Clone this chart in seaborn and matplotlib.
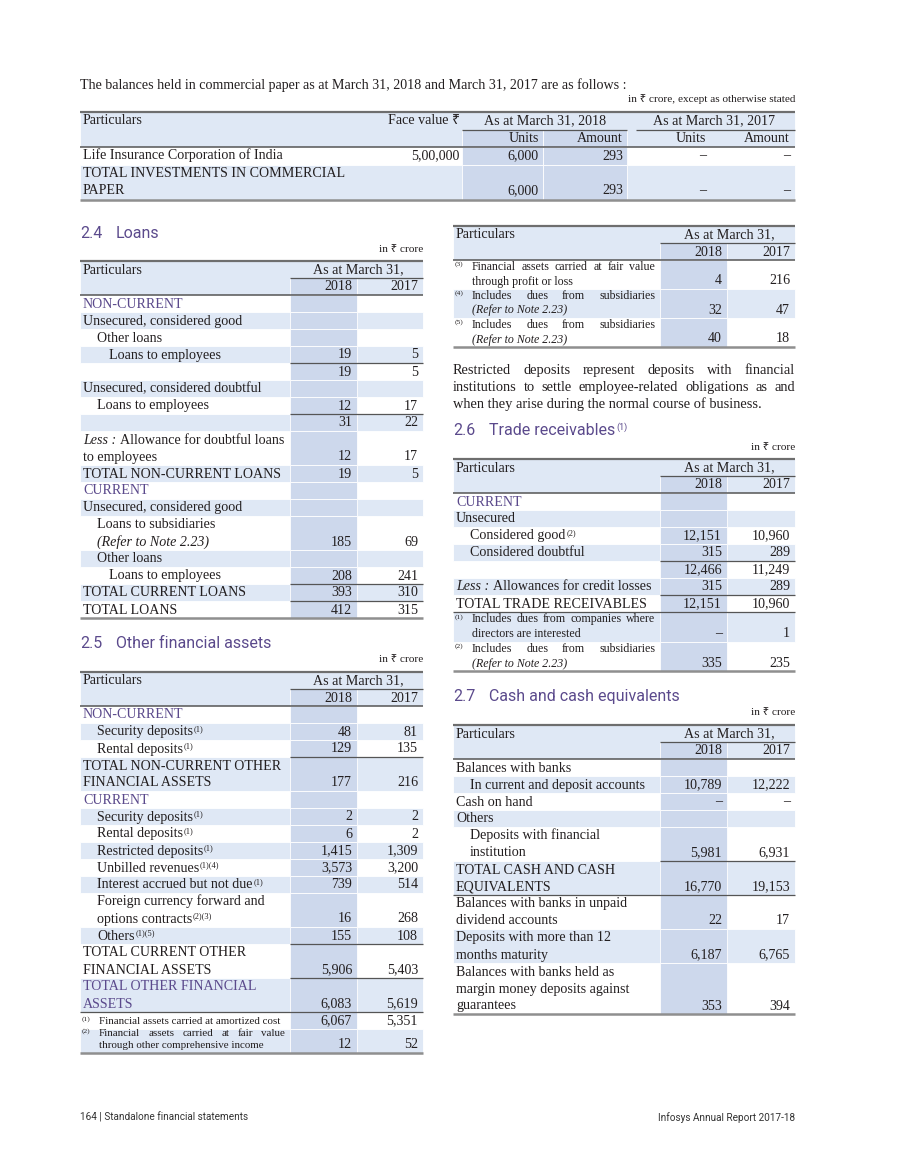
import numpy as np
import seaborn as sns
import matplotlib.pyplot as plt
from matplotlib.patches import Rectangle

# ---------------- data ----------------
# commercial paper
cp_rows = ["Life Insurance Corporation of India", "TOTAL INVESTMENTS IN COMMERCIAL\nPAPER"]
cp_face_value = [500000, None]
cp_units_2018 = [6000, 6000]
cp_amount_2018 = [293, 293]
cp_units_2017 = [0, 0]
cp_amount_2017 = [0, 0]

# 2.4 Loans
loans_labels = ["NON-CURRENT", "Unsecured, considered good", "Other loans", "Loans to employees", "",
                "Unsecured, considered doubtful", "Loans to employees", "",
                "*Less :* Allowance for doubtful loans\nto employees", "TOTAL NON-CURRENT LOANS",
                "CURRENT", "Unsecured, considered good", "Loans to subsidiaries\n*(Refer to Note 2.23)*",
                "Other loans", "Loans to employees", "TOTAL CURRENT LOANS", "TOTAL LOANS"]
loans_2018 = [None, None, None, 19, 19, None, 12, 31, 12, 19, None, None, 185, None, 208, 393, 412]
loans_2017 = [None, None, None, 5, 5, None, 17, 22, 17, 5, None, None, 69, None, 241, 310, 315]

# 2.5 Other financial assets
ofa_labels = ["NON-CURRENT", "Security deposits^(1)", "Rental deposits^(1)",
              "TOTAL NON-CURRENT OTHER\nFINANCIAL ASSETS", "CURRENT", "Security deposits^(1)",
              "Rental deposits^(1)", "Restricted deposits^(1)", "Unbilled revenues^(1)(4)",
              "Interest accrued but not due^(1)", "Foreign currency forward and\noptions contracts^(2)(3)",
              "Others^(1)(5)", "TOTAL CURRENT OTHER\nFINANCIAL ASSETS", "TOTAL OTHER FINANCIAL\nASSETS"]
ofa_2018 = [None, 48, 129, 177, None, 2, 6, 1415, 3573, 739, 16, 155, 5906, 6083]
ofa_2017 = [None, 81, 135, 216, None, 2, 2, 1309, 3200, 514, 268, 108, 5403, 5619]
ofa_note_marks = ["(1)", "(2)"]
ofa_note_text = ["Financial assets carried at amortized cost",
                 "Financial assets carried at fair value\nthrough other comprehensive income"]
ofa_note_2018 = [6067, 12]
ofa_note_2017 = [5351, 52]
ofa_cont_marks = ["(3)", "(4)", "(5)"]
ofa_cont_text = ["Financial assets carried at fair value\nthrough profit or loss",
                 "Includes dues from subsidiaries\n*(Refer to Note 2.23)*",
                 "Includes dues from subsidiaries\n*(Refer to Note 2.23)*"]
ofa_cont_2018 = [4, 32, 40]
ofa_cont_2017 = [216, 47, 18]

# 2.6 Trade receivables
tr_labels = ["CURRENT", "Unsecured", "Considered good^(2)", "Considered doubtful", "",
             "*Less :* Allowances for credit losses", "TOTAL TRADE RECEIVABLES"]
tr_2018 = [None, None, 12151, 315, 12466, 315, 12151]
tr_2017 = [None, None, 10960, 289, 11249, 289, 10960]
tr_note_marks = ["(1)", "(2)"]
tr_note_text = ["Includes dues from companies where\ndirectors are interested",
                "Includes dues from subsidiaries\n*(Refer to Note 2.23)*"]
tr_note_2018 = [0, 335]
tr_note_2017 = [1, 235]

# 2.7 Cash and cash equivalents
cash_labels = ["Balances with banks", "In current and deposit accounts", "Cash on hand", "Others",
               "Deposits with financial\ninstitution", "TOTAL CASH AND CASH\nEQUIVALENTS",
               "Balances with banks in unpaid\ndividend accounts", "Deposits with more than 12\nmonths maturity",
               "Balances with banks held as\nmargin money deposits against\nguarantees"]
cash_2018 = [None, 10789, 0, None, 5981, 16770, 22, 6187, 353]
cash_2017 = [None, 12222, 0, None, 6931, 19153, 17, 6765, 394]

intro = "The balances held in commercial paper as at March 31, 2018 and March 31, 2017 are as follows :"
paragraph = ["Restricted deposits represent deposits with financial",
             "institutions to settle employee-related obligations as and",
             "when they arise during the normal course of business."]

# ---------------- layout / style ----------------
loans_indent = [0, 0, 1, 2, 0, 0, 1, 0, 0, 0, 0, 0, 1, 1, 2, 0, 0]
loans_rule = [0, 0, 0, 0, 1, 0, 0, 1, 0, 0, 0, 0, 0, 0, 0, 1, 1]
loans_purple = [0, 10]
ofa_indent = [0, 1, 1, 0, 0, 1, 1, 1, 1, 1, 1, 1, 0, 0]
ofa_rule = [0, 0, 0, 1, 0, 0, 0, 0, 0, 0, 0, 0, 1, 1]
ofa_purple = [0, 4, 13]
tr_indent = [0, 0, 1, 1, 0, 0, 0]
tr_rule = [0, 0, 0, 0, 1, 0, 1]
tr_purple = [0]
cash_indent = [0, 1, 0, 0, 1, 0, 0, 0, 0]
cash_rule = [0, 0, 0, 0, 0, 1, 2, 0, 0]

INK = "#231f20"
BLUE = "#dfe8f5"
COL = "#cdd8ec"
PURPLE = "#5b4a8c"
DARK = "#555555"
TOPC = "#6e6e6e"
BOTC = "#8f8f8f"
BODY = 10.1
SMALL = 8.1
SANS = ["Roboto", "DejaVu Sans"]

sns.set_theme(style="white")
plt.rcParams['font.family'] = ['Liberation Serif', 'Noto Sans', 'DejaVu Sans']

fig = plt.figure(figsize=(9, 11.65), dpi=100)
ax = fig.add_axes([0, 0, 1, 1])
ax.set_xlim(0, 900)
ax.set_ylim(1165, 0)
ax.axis('off')
R = fig.canvas.get_renderer()


def fmt(v):
    if v is None:
        return ""
    if v == 0:
        return "–"
    return f"{v:,}"


def indian(v):
    if v is None:
        return ""
    s = str(v)
    head, tail = s[:-3], s[-3:]
    parts = []
    while len(head) > 2:
        parts.insert(0, head[-2:])
        head = head[:-2]
    if head:
        parts.insert(0, head)
    return ",".join(parts + [tail])


def put(x, y, s, size=BODY, color=INK, ha='left', style='normal', family=None):
    kw = {'family': family} if family else {}
    return ax.text(x, y, s, fontsize=size, color=color, ha=ha, va='baseline',
                   fontstyle=style, zorder=3, **kw)


def width(t):
    return t.get_window_extent(renderer=R).width


def tokens(line, split_words):
    # returns runs of (text, italic, superscript)
    out = []
    for j, part in enumerate(line.split('*')):
        ital = j % 2 == 1
        sup = None
        if '^' in part:
            part, sup = part.split('^', 1)
        words = [w for w in part.split(' ') if w]
        if split_words:
            out += [(w, ital, False) for w in words]
        elif words:
            out.append((" ".join(words), ital, False))
        if sup:
            out.append((sup, ital, True))
    return out


def rich(x, y, line, size=BODY, color=INK, right=None):
    placed = []
    for w, it, sup in tokens(line, right is not None):
        t = put(0, y, w, size * 0.6 if sup else size, color, style='italic' if it else 'normal')
        placed.append((t, sup, width(t)))
    sp = 0.27 * size * 100 / 72
    gaps = sum(1 for k, p in enumerate(placed) if k > 0 and not p[1])
    if right is not None and gaps:
        sp = (right - x - sum(p[2] for p in placed)) / gaps
    cx = x
    for k, (t, sup, w) in enumerate(placed):
        if k > 0 and not sup:
            cx += sp
        t.set_position((cx + (0.8 if sup else 0), y - 4 if sup else y))
        cx += w
    return cx


def hline(y, xa, xb, color=DARK, lw=0.9):
    ax.plot([xa, xb], [y, y], color=color, lw=lw, solid_capstyle='butt', zorder=2)


def cell(x, y, w, h, color):
    ax.add_patch(Rectangle((x, y), w, h, facecolor=color, edgecolor='white', lw=0.6, zorder=1))


def heading(x, y, num, title, sup=None):
    put(x, y, num, 11.5, PURPLE, family=SANS)
    t = put(x + 36, y, title, 11.5, PURPLE, family=SANS)
    if sup:
        put(x + 36 + width(t) + 1, y - 5, sup, 6.5, PURPLE, family=SANS)


def year_table(x0, c1, c2, x1, top, labels=(), v18=(), v17=(), indent=(), rule=(), purple=(),
               marks=(), notes=(), n18=(), n17=(), note_rule=0, note_lh=14.5, note_size=8.6, lh=17):
    # header
    cell(x0, top, x1 - x0, 2 * lh, BLUE)
    cell(c1, top + lh, c2 - c1, lh, COL)
    put(x0 + 3, top + 12.5, "Particulars")
    put((c1 + x1) / 2 + 2, top + 12.5, "As at March 31,", ha='center')
    put(c2 - 5, top + lh + 12.5, "2018", ha='right')
    put(x1 - 5, top + lh + 12.5, "2017", ha='right')
    hline(top + lh, c1, x1, DARK, 0.9)
    hline(top, x0, x1, TOPC, 1.6)
    hline(top + 2 * lh, x0, x1, DARK, 1.1)
    rows = []
    for i, lab in enumerate(labels):
        rows.append((False, "", lab, v18[i], v17[i], indent[i], rule[i], i in purple))
    for j, lab in enumerate(notes):
        rows.append((True, marks[j], lab, n18[j], n17[j], 0, note_rule if j == 0 else 0, False))
    y = top + 2 * lh
    for i, (is_note, mark, lab, a, b, ind, rl, pur) in enumerate(rows):
        lines = lab.split('\n')
        nl = len(lines)
        step = note_lh if is_note else lh
        h = max(lh, nl * note_lh) if is_note else nl * lh
        if i % 2:
            cell(x0, y, x1 - x0, h, BLUE)
        cell(c1, y, c2 - c1, h, COL)
        if rl == 1:
            hline(y, c1, x1, DARK, 0.9)
        elif rl == 2:
            hline(y, x0, x1, DARK, 0.9)
        base = y + h - 4.5
        color = PURPLE if pur else INK
        if is_note:
            first = base - (nl - 1) * step
            put(x0 + 2, first - 4, mark, 5.4)
            for k, line in enumerate(lines):
                rich(x0 + 19, base - (nl - 1 - k) * step, line, note_size, INK,
                     right=(c1 - 5) if k < nl - 1 else None)
        else:
            xs = x0 + [3, 17, 29][ind]
            for k, line in enumerate(lines):
                if line:
                    rich(xs, base - (nl - 1 - k) * step, line, BODY, color)
        put(c2 - 5, base, fmt(a), ha='right')
        put(x1 - 5, base, fmt(b), ha='right')
        y += h
    hline(y, x0, x1, BOTC, 1.8)
    return y


# ---------------- page ----------------
put(80, 89, intro)
put(795, 102, "in ₹ crore, except as otherwise stated", SMALL, ha='right')

# commercial paper table
x0, x1, top, lh = 80, 795, 112, 17.5
cols = [(462, 543), (543, 627)]
cell(x0, top, x1 - x0, 2 * lh, BLUE)
for a, b in cols:
    cell(a, top + lh, b - a, lh, COL)
put(83, top + 12.5, "Particulars")
put(460, top + 12.5, "Face value ₹", ha='right')
put(545, top + 12.5, "As at March 31, 2018", ha='center')
put(714, top + 12.5, "As at March 31, 2017", ha='center')
hline(top + lh, 462, 627, DARK, 0.9)
hline(top + lh, 636, 795, DARK, 0.9)
for xr, s in zip([539, 623, 706, 790], ["Units", "Amount", "Units", "Amount"]):
    put(xr, top + lh + 12.5, s, ha='right')
hline(top, x0, x1, TOPC, 1.6)
hline(top + 2 * lh, x0, x1, DARK, 1.1)
y = top + 2 * lh
for i, label in enumerate(cp_rows):
    lines = label.split('\n')
    h = len(lines) * lh
    if i % 2:
        cell(x0, y, x1 - x0, h, BLUE)
    for a, b in cols:
        cell(a, y, b - a, h, COL)
    base = y + h - 5
    for k, line in enumerate(lines):
        put(83, base - (len(lines) - 1 - k) * lh, line)
    vals = [indian(cp_face_value[i]), fmt(cp_units_2018[i]), fmt(cp_amount_2018[i]),
            fmt(cp_units_2017[i]), fmt(cp_amount_2017[i])]
    for xr, v in zip([460, 539, 623, 706, 790], vals):
        put(xr, base, v, ha='right')
    y += h
hline(y, x0, x1, BOTC, 1.8)

# left column
heading(80, 238, "2.4", "Loans")
put(423, 252, "in ₹ crore", SMALL, ha='right')
year_table(80, 290, 357, 423, 261, loans_labels, loans_2018, loans_2017, loans_indent, loans_rule, loans_purple)

heading(80, 648, "2.5", "Other financial assets")
put(423, 662, "in ₹ crore", SMALL, ha='right')
year_table(80, 290, 357, 423, 672, ofa_labels, ofa_2018, ofa_2017, ofa_indent, ofa_rule, ofa_purple,
           ofa_note_marks, ofa_note_text, ofa_note_2018, ofa_note_2017, note_rule=2,
           note_lh=12, note_size=7.9)

# right column
year_table(453, 660, 727, 795, 226, marks=ofa_cont_marks, notes=ofa_cont_text,
           n18=ofa_cont_2018, n17=ofa_cont_2017, note_lh=14.5)

for k, line in enumerate(paragraph):
    rich(453, 374 + 17 * k, line, 10.4, INK, right=795 if k < len(paragraph) - 1 else None)

heading(453, 435, "2.6", "Trade receivables", "(1)")
put(795, 450, "in ₹ crore", SMALL, ha='right')
year_table(453, 660, 727, 795, 459, tr_labels, tr_2018, tr_2017, tr_indent, tr_rule, tr_purple,
           tr_note_marks, tr_note_text, tr_note_2018, tr_note_2017, note_rule=2, note_lh=14.8)

heading(453, 701, "2.7", "Cash and cash equivalents")
put(795, 715, "in ₹ crore", SMALL, ha='right')
year_table(453, 660, 727, 795, 725, cash_labels, cash_2018, cash_2017, cash_indent, cash_rule)

# footer
put(80, 1120, "164 | Standalone financial statements", 7.2, "#333333", family=SANS)
put(795, 1121, "Infosys Annual Report 2017-18", 7.2, "#333333", ha='right', family=SANS)

fig.savefig("out.png", dpi=100, facecolor="white")
